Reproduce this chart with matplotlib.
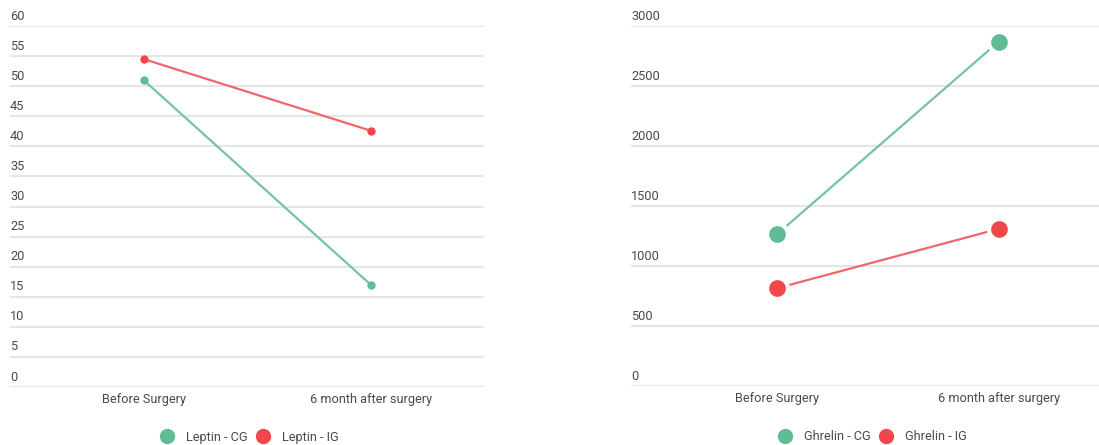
import matplotlib
matplotlib.use("Agg")
import matplotlib.pyplot as plt
from matplotlib.lines import Line2D
from matplotlib import transforms

plt.rcParams['font.family'] = ['Roboto', 'DejaVu Sans']

categories = ["Before Surgery", "6 month after surgery"]

leptin_cg = [51, 17]
leptin_ig = [54.5, 42.6]
leptin_ticks = [0, 5, 10, 15, 20, 25, 30, 35, 40, 45, 50, 55, 60]

ghrelin_cg = [1265, 2870]
ghrelin_ig = [815, 1310]
ghrelin_ticks = [0, 500, 1000, 1500, 2000, 2500, 3000]

GREEN = "#5fbd95"
RED = "#f2464d"
GREEN_LINE = "#74c4a0"
RED_LINE = "#f0666b"
TEXT = "#4a4a4a"
GRID = "#e6e6e6"
FS = 9.2

W, H = 1099, 445
fig = plt.figure(figsize=(W / 100, H / 100), dpi=100)


def px_axes(x0, x1, y_top, y_bot):
    return fig.add_axes([x0 / W, 1 - y_bot / H, (x1 - x0) / W, (y_bot - y_top) / H])


def draw_panel(ax, cg, ig, ticks, xlim, ms, lw, edge):
    ax.set_xlim(*xlim)
    ax.set_ylim(ticks[0], ticks[-1])
    for s in ax.spines.values():
        s.set_visible(False)
    ax.set_xticks([])
    ax.set_yticks([])
    for t in ticks:
        ax.axhline(t, color=GRID, lw=1.5, zorder=0)
    lab_tr = transforms.offset_copy(
        transforms.blended_transform_factory(ax.transAxes, ax.transData),
        fig=fig, x=0, y=2.5, units='points')
    for t in ticks:
        ax.text(0.0, t, str(t), transform=lab_tr, ha='left', va='bottom',
                fontsize=FS, color=TEXT)
    xs = list(range(len(categories)))
    ax.plot(xs, cg, color=GREEN_LINE, lw=lw, zorder=2)
    ax.plot(xs, ig, color=RED_LINE, lw=lw, zorder=2)
    ax.plot(xs, cg, 'o', color=GREEN, ms=ms, mec='white', mew=edge, zorder=3)
    ax.plot(xs, ig, 'o', color=RED, ms=ms, mec='white', mew=edge, zorder=3)
    cat_tr = transforms.offset_copy(
        transforms.blended_transform_factory(ax.transData, ax.transAxes),
        fig=fig, x=0, y=-9, units='points')
    for x, c in zip(xs, categories):
        ax.text(x, 0, c, transform=cat_tr, ha='center', va='center',
                fontsize=FS, color=TEXT)
    handles = [Line2D([], [], ls='none', marker='o', ms=10, color=GREEN),
               Line2D([], [], ls='none', marker='o', ms=10, color=RED)]
    return handles


def add_legend(handles, names, cx):
    fig.legend(handles, names, loc='center',
               bbox_to_anchor=(cx / W, 1 - 437 / H), ncol=2, frameon=False,
               fontsize=FS, labelcolor=TEXT, handletextpad=1.0,
               columnspacing=0.7, handlelength=1.0)


# Leptin panel
ax1 = px_axes(10, 484, 26, 387)
h1 = draw_panel(ax1, leptin_cg, leptin_ig, leptin_ticks,
                (-0.589, 1.499), ms=6, lw=1.6, edge=0.0)
add_legend(h1, ["Leptin - CG", "Leptin - IG"], 250)

# Ghrelin panel
ax2 = px_axes(631, 1099, 26, 386)
h2 = draw_panel(ax2, ghrelin_cg, ghrelin_ig, ghrelin_ticks,
                (-0.659, 1.452), ms=15, lw=1.6, edge=3.0)
add_legend(h2, ["Ghrelin - CG", "Ghrelin - IG"], 873)

fig.savefig("out.png", dpi=100, facecolor='white')
